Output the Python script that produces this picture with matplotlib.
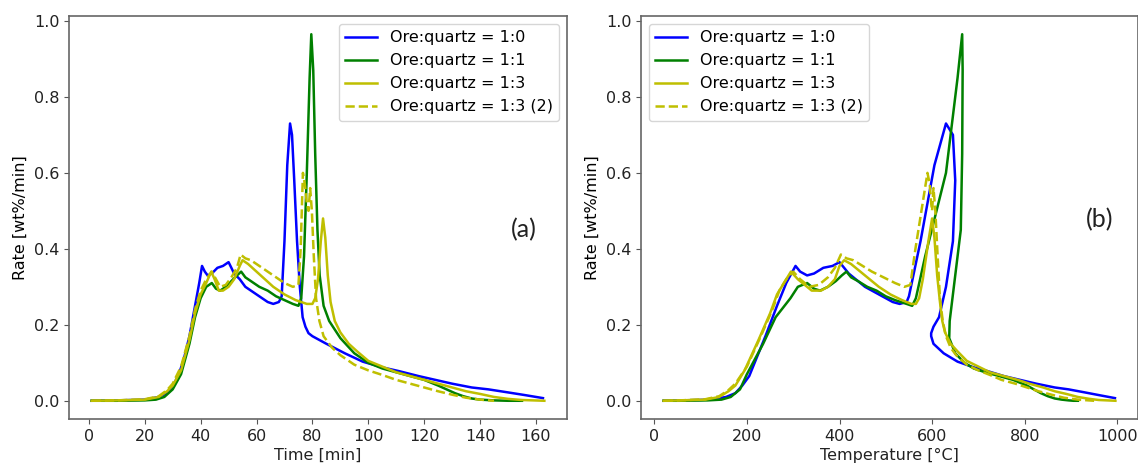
import matplotlib.pyplot as plt

plt.rcParams['font.family'] = ['DejaVu Sans']
plt.rcParams['font.size'] = 11.5

labels = ['Ore:quartz = 1:0', 'Ore:quartz = 1:1', 'Ore:quartz = 1:3', 'Ore:quartz = 1:3 (2)']

# Ore:quartz = 1:0
time_10 = [1, 10, 20, 25, 28, 30, 32, 34, 36, 38, 39.5, 40.5, 41.5, 42.5, 44, 46, 48, 50, 51, 52,
           54, 56, 58, 60, 62, 64, 66, 68, 69, 70, 71, 72, 72.7, 73.5, 74.5, 75.5, 76.5, 77.5, 78.6,
           80, 85, 91.6, 98, 105, 111, 118, 124, 130, 137, 143, 150, 156, 162.5]
temp_10 = [20, 60, 120, 155, 175, 190, 205, 220, 240, 265, 285, 305, 315, 330, 345, 365, 385, 400, 410, 420,
           435, 455, 470, 485, 500, 515, 530, 545, 550, 575, 605, 630, 645, 650, 645, 630, 615, 603, 598,
           598, 603, 625, 655, 690, 720, 755, 790, 825, 865, 895, 930, 960, 995]
rate_10 = [0, 0.001, 0.003, 0.01, 0.02, 0.04, 0.065, 0.11, 0.17, 0.25, 0.31, 0.355, 0.34, 0.33, 0.335, 0.35,
           0.355, 0.365, 0.35, 0.335, 0.32, 0.30, 0.29, 0.28, 0.27, 0.26, 0.255, 0.26, 0.275, 0.42, 0.62,
           0.73, 0.70, 0.58, 0.42, 0.30, 0.22, 0.195, 0.178, 0.17, 0.15, 0.125, 0.103, 0.088, 0.078, 0.065,
           0.055, 0.045, 0.035, 0.03, 0.022, 0.015, 0.007]

# Ore:quartz = 1:1
time_11 = [1, 10, 20, 24, 27, 30, 33, 36, 38, 40, 42, 44, 45.5, 47, 49, 51, 53, 54.5, 56, 58, 61, 64, 67,
           70, 73, 75, 76, 77, 78, 79, 79.6, 80.3, 81, 81.8, 82.6, 84, 86, 90, 95, 100, 105, 110, 115, 120,
           125, 128, 131, 134, 137, 140, 145, 150, 155]
temp_11 = [20, 55, 115, 145, 165, 185, 200, 235, 262, 294, 310, 330, 345, 358, 375, 392, 405, 415, 425, 440,
           460, 480, 500, 520, 545, 557, 565, 585, 630, 655, 665, 666, 665, 662, 650, 642, 638, 637, 650,
           670, 690, 715, 745, 775, 805, 820, 835, 850, 865, 880, 895, 905, 915]
rate_11 = [0, 0, 0.001, 0.003, 0.01, 0.03, 0.07, 0.15, 0.22, 0.27, 0.30, 0.31, 0.295, 0.29, 0.30, 0.315,
           0.33, 0.34, 0.325, 0.315, 0.30, 0.29, 0.275, 0.265, 0.255, 0.25, 0.27, 0.38, 0.60, 0.85, 0.965,
           0.87, 0.65, 0.45, 0.33, 0.25, 0.21, 0.165, 0.125, 0.10, 0.085, 0.075, 0.065, 0.055, 0.04, 0.03,
           0.02, 0.012, 0.006, 0.003, 0.001, 0.0, 0.0]

# Ore:quartz = 1:3
time_13 = [1, 10, 20, 25, 28, 30, 33, 36, 38, 40, 42, 43.8, 45, 46.5, 48, 50, 52, 54, 55, 57, 60, 63, 66,
           70, 74, 78, 80, 81, 82, 83, 83.8, 84.6, 85.5, 86.5, 88, 90, 93, 96, 100, 105, 110, 115, 120,
           125, 130, 135, 140, 145, 150, 155, 163]
temp_13 = [20, 55, 110, 140, 160, 175, 195, 225, 250, 265, 280, 295, 310, 340, 360, 375, 390, 400, 410, 425,
           445, 465, 485, 510, 535, 555, 565, 572, 580, 592, 600, 605, 611, 617, 622, 628, 640, 655, 675,
           700, 725, 755, 785, 810, 840, 865, 890, 915, 940, 960, 996]
rate_13 = [0, 0.001, 0.003, 0.01, 0.025, 0.04, 0.08, 0.16, 0.23, 0.28, 0.31, 0.34, 0.32, 0.29, 0.29, 0.30,
           0.32, 0.355, 0.37, 0.36, 0.34, 0.32, 0.30, 0.28, 0.265, 0.255, 0.255, 0.27, 0.32, 0.42, 0.48,
           0.43, 0.33, 0.26, 0.21, 0.18, 0.15, 0.13, 0.105, 0.09, 0.075, 0.065, 0.055, 0.045, 0.035, 0.025,
           0.018, 0.01, 0.005, 0.002, 0.0]

# Ore:quartz = 1:3 (2)
time_13b = [1, 10, 20, 25, 28, 30, 33, 36, 38, 40, 42, 44, 45.5, 47, 49, 51, 53, 54.3, 56, 58, 61, 64, 67,
            70, 73, 75, 75.8, 76.6, 77.3, 78, 78.6, 79.2, 79.8, 80.5, 81.3, 82.5, 84, 87, 90, 95, 100, 105,
            110, 115, 120, 125, 130, 135, 140, 145]
temp_13b = [20, 55, 110, 140, 160, 175, 200, 230, 255, 270, 285, 300, 315, 335, 355, 375, 390, 403, 415, 430,
            450, 470, 495, 520, 540, 553, 564, 590, 595, 598, 600, 603, 607, 612, 617, 623, 630, 640, 652,
            675, 700, 725, 750, 780, 805, 830, 858, 885, 915, 950]
rate_13b = [0, 0.001, 0.004, 0.012, 0.028, 0.045, 0.09, 0.17, 0.24, 0.29, 0.32, 0.34, 0.32, 0.30, 0.305,
            0.325, 0.35, 0.385, 0.375, 0.37, 0.355, 0.34, 0.325, 0.31, 0.30, 0.305, 0.40, 0.60, 0.57, 0.52,
            0.50, 0.56, 0.50, 0.38, 0.27, 0.21, 0.17, 0.14, 0.12, 0.095, 0.08, 0.068, 0.055, 0.045, 0.035,
            0.025, 0.016, 0.008, 0.003, 0.0]

series = [
    (time_10, temp_10, rate_10, 'b', '-'),
    (time_11, temp_11, rate_11, 'g', '-'),
    (time_13, temp_13, rate_13, 'y', '-'),
    (time_13b, temp_13b, rate_13b, 'y', '--'),
]

fig = plt.figure(figsize=(11.38, 4.63), dpi=100)
ax1 = fig.add_axes([69 / 1138, 44 / 463, 498 / 1138, 403 / 463])
ax2 = fig.add_axes([641 / 1138, 44 / 463, 497 / 1138, 403 / 463])

for (t, temp, r, c, ls), lab in zip(series, labels):
    ax1.plot(t, r, color=c, ls=ls, lw=1.8, label=lab)
    ax2.plot(temp, r, color=c, ls=ls, lw=1.8, label=lab)

ax1.set_xticks(range(0, 161, 20))
ax2.set_xticks(range(0, 1001, 200))
for ax in (ax1, ax2):
    ax.set_ylim(-0.048, 1.013)
    ax.set_yticks([0.0, 0.2, 0.4, 0.6, 0.8, 1.0])
    ax.set_ylabel('Rate [wt%/min]', fontsize=11.5)
    for s in ax.spines.values():
        s.set_color('#666666')
        s.set_linewidth(1.2)
    ax.tick_params(colors='#555555', labelcolor='#222222', labelsize=11.5)

# the source crops the x labels at the bottom; keep them just inside here
ax1.set_xlabel('Time [min]', color='#222222', labelpad=3)
ax2.set_xlabel('Temperature [°C]', color='#222222', labelpad=3)

ax1.legend(loc='upper right', fontsize=11.5)
ax2.legend(loc='upper left', fontsize=11.5)

ax1.text(155.7, 0.45, '(a)', fontsize=18, family='Lato', ha='center', va='center', color='#222222')
ax2.text(961, 0.477, '(b)', fontsize=18, family='Lato', ha='center', va='center', color='#222222')

fig.savefig('out.png', dpi=100)
